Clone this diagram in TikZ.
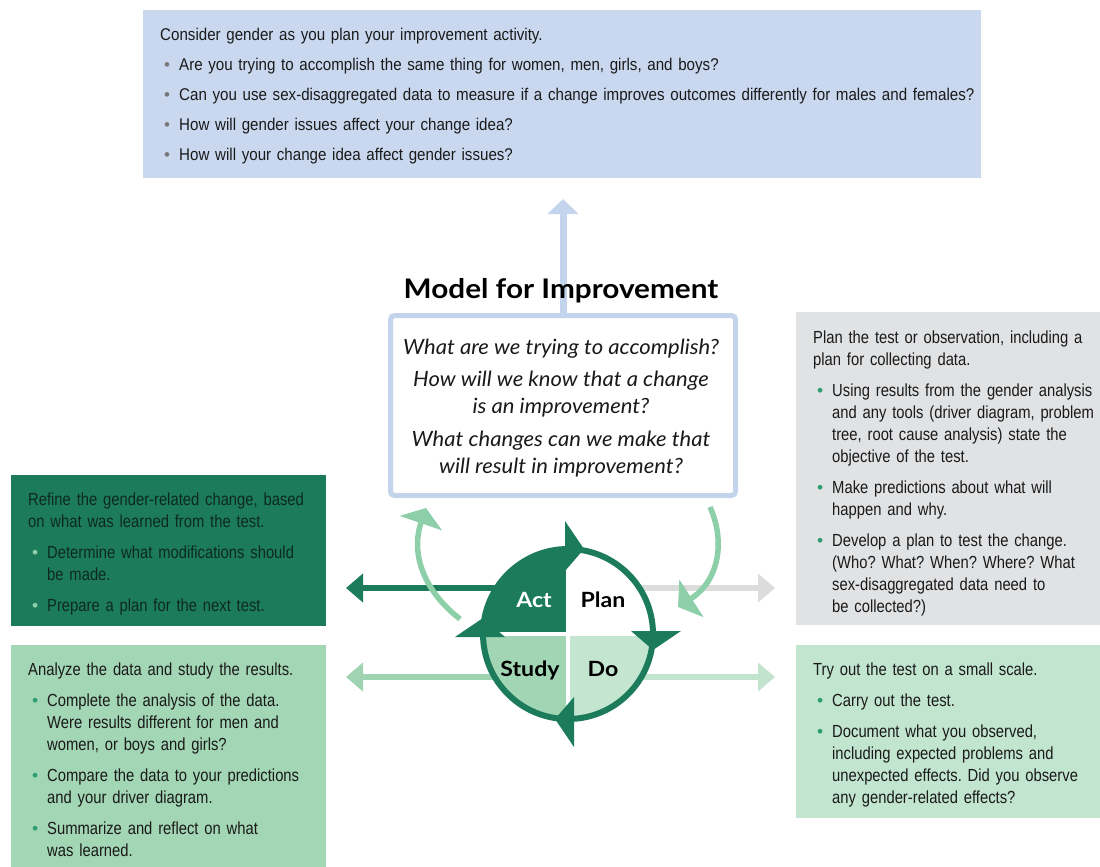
\documentclass[tikz,border=0pt]{standalone}
\usepackage{fontspec}
\setmainfont{Liberation Sans}
\newfontfamily\cond{Liberation Sans}[FakeStretch=0.845]
\newfontfamily\condtop{Liberation Sans}[FakeStretch=0.89]
\newfontfamily\gill{Lato}[FakeStretch=1.1]
\newfontfamily\gillit{Lato}[FakeStretch=1.05]
\newfontfamily\bulfont{Liberation Sans}
\usetikzlibrary{arrows.meta,calc}
\definecolor{dkgreen}{HTML}{1C7B5B}
\definecolor{midgreen}{HTML}{8DCFA9}
\definecolor{studyc}{HTML}{A2D5B4}
\definecolor{doc}{HTML}{C4E6D0}
\definecolor{lboxc}{HTML}{A2D6B4}
\definecolor{rboxc}{HTML}{C2E5CF}
\definecolor{greyc}{HTML}{E1E2E4}
\definecolor{bluec}{HTML}{C9D8EF}
\definecolor{blueline}{HTML}{C4D4EC}
\definecolor{bulc}{HTML}{2E9E73}
\definecolor{bullt}{HTML}{8DCFA9}
\definecolor{bulgrey}{HTML}{777777}
\definecolor{txt}{HTML}{1A1A1A}
\definecolor{dktxt}{HTML}{0E2A20}
\definecolor{greyarrow}{HTML}{DCDCDC}
\definecolor{ltleft}{HTML}{9FD3B2}
\definecolor{ltright}{HTML}{C2E4CE}
\newcommand\itemgap{9pt}
\newcommand\bitem[1][bulc]{\par\vspace{\itemgap}\hangindent=19pt\hangafter=1\noindent\makebox[19pt][l]{\hspace{4pt}{\bulfont\textcolor{#1}{\textbullet}}}}
\begin{document}
\frenchspacing
\begin{tikzpicture}[x=1pt,y=-1pt,
  box/.style={rectangle,inner sep=0pt,anchor=north west},
  boxtext/.style={anchor=base west,text width=330pt,align=left,inner sep=0pt,font=\cond\fontsize{17.5}{22}\selectfont,text=txt},
  bigarrow/.style={line width=6pt,-{Triangle[length=17pt,width=28pt]}},
  curvearrow/.style={line width=5.5pt,midgreen,-{Triangle[length=16pt,width=44pt]}},
  quadlab/.style={anchor=base,inner sep=0pt,font=\gill\bfseries\fontsize{21}{24}\selectfont}]
\useasboundingbox (0,0) rectangle (1100,867);
% boxes
\node[box,fill=bluec,minimum width=838pt,minimum height=168pt] (topbox) at (143,10) {};
\node[box,fill=dkgreen,minimum width=315pt,minimum height=151pt] (actbox) at (11,475) {};
\node[box,fill=lboxc,minimum width=315pt,minimum height=230pt] (studybox) at (11,645) {};
\node[box,fill=greyc,minimum width=310pt,minimum height=313pt] (planbox) at (796,312) {};
\node[box,fill=rboxc,minimum width=310pt,minimum height=173pt] (dobox) at (796,645) {};
% texts
\node[boxtext,font=\condtop\fontsize{17}{22}\selectfont,text width=830pt] (toptext) at (160,41) {\renewcommand\itemgap{8pt}Consider gender as you plan your improvement activity.%
\bitem[bulgrey]Are you trying to accomplish the same thing for women, men, girls, and boys?%
\bitem[bulgrey]Can you use sex-disaggregated data to measure if a change improves outcomes differently for males and females?%
\bitem[bulgrey]How will gender issues affect your change idea?%
\bitem[bulgrey]How will your change idea affect gender issues?\par};
\node[boxtext,text=dktxt] (acttext) at (28,505) {Refine the gender-related change, based\newline on what was learned from the test.%
\bitem[bullt]Determine what modifications should\newline be made.%
\bitem[bullt]Prepare a plan for the next test.\par};
\node[boxtext] (studytext) at (28,675) {Analyze the data and study the results.%
\bitem Complete the analysis of the data.\newline Were results different for men and\newline women, or boys and girls?%
\bitem Compare the data to your predictions\newline and your driver diagram.%
\bitem Summarize and reflect on what\newline was learned.\par};
\node[boxtext] (plantext) at (813,343) {Plan the test or observation, including a\newline plan for collecting data.%
\bitem Using results from the gender analysis\newline and any tools (driver diagram, problem\newline tree, root cause analysis) state the\newline objective of the test.%
\bitem Make predictions about what will\newline happen and why.%
\bitem Develop a plan to test the change.\newline (Who? What? When? Where? What\newline sex-disaggregated data need to\newline be collected?)\par};
\node[boxtext] (dotext) at (813,675) {Try out the test on a small scale.%
\bitem Carry out the test.%
\bitem Document what you observed,\newline including expected problems and\newline unexpected effects. Did you observe\newline any gender-related effects?\par};
% model for improvement
\node[box,draw=blueline,line width=5pt,rounded corners=4pt,fill=white,minimum width=345pt,minimum height=180pt] (qbox) at (388,313) {};
\coordinate (bluetip) at (563,199);
\draw[blueline,line width=7pt,-{Triangle[length=15pt,width=30pt]}] (qbox.north -| bluetip) -- (bluetip);
\node[anchor=base,inner sep=0pt,font=\gill\bfseries\fontsize{27}{30}\selectfont] (title) at (561,298) {Model for Improvement};
\node[anchor=base,inner sep=0pt,align=center,font=\gillit\itshape\fontsize{21}{26.5}\selectfont,text=txt] (qtext) at (561,473) {What are we trying to accomplish?\\[6pt] How will we know that a change\\ is an improvement?\\[7pt] What changes can we make that\\ will result in improvement?};
% cycle
\coordinate (C) at (568,634);
\node[circle,minimum size=176pt,inner sep=0pt] (cyc) at (C) {};
\coordinate (dkend) at (346,588);
\coordinate (greyend) at (775,588);
\coordinate (ltlend) at (346,677);
\coordinate (ltrend) at (775,677);
\draw[bigarrow,dkgreen] ($(C)+(-60,-46)$) -- (dkend);
\draw[bigarrow,greyarrow] ($(C)+(40,-46)$) -- (greyend);
\draw[bigarrow,ltleft] ($(C)+(-40,43)$) -- (ltlend);
\draw[bigarrow,ltright] ($(C)+(40,43)$) -- (ltrend);
\fill[dkgreen] (C) -- ++(180:85) arc[start angle=180,end angle=270,radius=85] -- cycle;
\fill[white] (C) -- ++(270:85) arc[start angle=270,end angle=360,radius=85] -- cycle;
\fill[doc] (C) -- ++(0:85) arc[start angle=0,end angle=90,radius=85] -- cycle;
\fill[studyc] (C) -- ++(90:85) arc[start angle=90,end angle=180,radius=85] -- cycle;
\draw[white,line width=4pt] ($(C)+(0,-85)$) -- ($(C)+(0,85)$);
\draw[white,line width=4pt] ($(C)+(-85,0)$) -- ($(C)+(85,0)$);
\draw[dkgreen,line width=6pt] (C) circle[radius=85];
% ring arrowheads
\fill[dkgreen] ($(C)+(-3,-113)$) -- ($(C)+(16,-85)$) -- ($(C)+(-3,-63)$) -- cycle;
\fill[dkgreen] ($(C)+(113,-3)$) -- ($(C)+(85,16)$) -- ($(C)+(63,-3)$) -- cycle;
\fill[dkgreen] ($(C)+(6,113)$) -- ($(C)+(-13,85)$) -- ($(C)+(6,63)$) -- cycle;
\fill[dkgreen] ($(C)+(-113,3)$) -- ($(C)+(-85,-16)$) -- ($(C)+(-63,3)$) -- cycle;
\node[quadlab,text=white] (actlab) at (534,607) {Act};
\node[quadlab] (planlab) at (603,607) {Plan};
\node[quadlab] (studylab) at (530,676) {Study};
\node[quadlab] (dolab) at (603,676) {Do};
% curved arrows
\coordinate (lcs) at (460,619);
\coordinate (lce) at (426,508);
\coordinate (rcs) at (710,507);
\coordinate (rce) at (678,607);
\draw[curvearrow] (lcs) .. controls (425,592) and (410,555) .. (lce);
\draw[curvearrow] (rcs) .. controls (725,540) and (720,580) .. (rce);
\end{tikzpicture}
\end{document}
